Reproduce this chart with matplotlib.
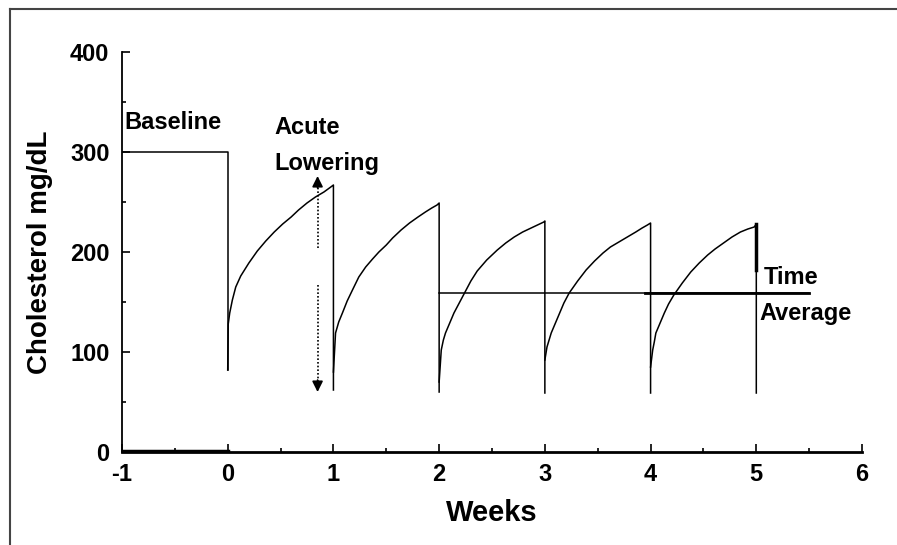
import matplotlib
matplotlib.use("Agg")
import matplotlib.pyplot as plt
from matplotlib.lines import Line2D

# データ
baseline_x = [-1, 0, 0]
baseline_y = [300, 300, 82]

curve1_x = [0.0, 0.005, 0.019, 0.044, 0.076, 0.123, 0.2, 0.28, 0.36, 0.44, 0.52,
            0.60, 0.67, 0.75, 0.83, 0.91, 0.975, 1.0, 1.0]
curve1_y = [82, 128, 139, 152, 165, 176, 189, 201, 211, 220, 228,
            235, 242, 249, 255, 260, 265, 267, 62]

curve2_x = [1.0, 1.02, 1.05, 1.085, 1.13, 1.18, 1.24, 1.305, 1.37, 1.43, 1.5,
            1.56, 1.64, 1.72, 1.8, 1.87, 1.93, 1.98, 2.0, 2.0]
curve2_y = [80, 119, 130, 139, 151, 162, 175, 185, 193, 200, 207,
            214, 222, 229, 235, 240, 244, 247, 249, 60]

curve3_x = [2.0, 2.02, 2.04, 2.06, 2.10, 2.14, 2.19, 2.24, 2.30, 2.36, 2.45,
            2.55, 2.63, 2.71, 2.79, 2.87, 2.93, 2.99, 3.0, 3.0]
curve3_y = [70, 102, 112, 119, 129, 139, 149, 159, 171, 181, 192,
            202, 209, 215, 220, 224, 227, 230, 231, 59]

curve4_x = [3.0, 3.02, 3.04, 3.06, 3.10, 3.14, 3.18, 3.23, 3.31, 3.39, 3.47,
            3.55, 3.62, 3.70, 3.78, 3.86, 3.92, 3.97, 4.0, 4.0]
curve4_y = [92, 105, 112, 119, 129, 139, 149, 159, 171, 182, 191,
            199, 205, 210, 215, 220, 224, 227, 229, 59]

curve5_x = [4.0, 4.02, 4.035, 4.05, 4.09, 4.13, 4.17, 4.22, 4.30, 4.38, 4.46,
            4.54, 4.61, 4.69, 4.77, 4.85, 4.92, 4.98, 5.0, 5.0]
curve5_y = [85, 102, 110, 119, 129, 139, 148, 157, 169, 180, 189,
            197, 203, 209, 215, 220, 223, 225, 228, 59]

avg_x = [2.0, 5.5]
avg_thick_x = [3.95, 5.5]
avg_y = 159

arrow_x = 0.85
arrow_up = (204, 276)     # 点線上部（上向き矢印）
arrow_down = (167, 60)    # 点線下部（下向き矢印）

x_ticks = [-1, 0, 1, 2, 3, 4, 5, 6]
x_labels = ['-1', '0', '1', '2', '3', '4', '5', '6']
y_ticks = [0, 100, 200, 300, 400]

plt.rcParams['font.family'] = ['Liberation Sans', 'DejaVu Sans']

fig = plt.figure(figsize=(8.97, 5.45), dpi=100)
ax = fig.add_axes([0.136, 0.1706, 0.825, 0.734])

k = 'black'
ax.plot(baseline_x, baseline_y, color=k, lw=1.1)
for cx, cy in [(curve1_x, curve1_y), (curve2_x, curve2_y), (curve3_x, curve3_y),
               (curve4_x, curve4_y), (curve5_x, curve5_y)]:
    ax.plot(cx, cy, color=k, lw=1.1)

ax.plot(avg_x, [avg_y, avg_y], color=k, lw=1.1)
ax.plot(avg_thick_x, [avg_y, avg_y], color=k, lw=2.0)
ax.plot([5, 5], [228, 182], color=k, lw=2.5)
ax.plot([-1, 0], [1, 1], color=k, lw=2.5)

# 点線の矢印（線は点線、矢じりは塗りつぶし）
ax.plot([arrow_x, arrow_x], [arrow_up[0], arrow_up[1] - 10], color=k, lw=1.2,
        ls=(0, (1, 1.2)))
ax.plot([arrow_x, arrow_x], [arrow_down[0], arrow_down[1] + 10], color=k, lw=1.2,
        ls=(0, (1, 1.2)))
ax.annotate('', xy=(arrow_x, arrow_up[1]), xytext=(arrow_x, arrow_up[1] - 12),
            arrowprops=dict(arrowstyle='-|>', color=k, lw=1.2,
                            mutation_scale=16, shrinkA=0, shrinkB=0))
ax.annotate('', xy=(arrow_x, arrow_down[1]), xytext=(arrow_x, arrow_down[1] + 12),
            arrowprops=dict(arrowstyle='-|>', color=k, lw=1.2,
                            mutation_scale=16, shrinkA=0, shrinkB=0))

fs = 17
fw = 'bold'
ax.text(-0.98, 329, 'Baseline', fontsize=fs, fontweight=fw, va='center', ha='left')
ax.text(0.44, 324, 'Acute', fontsize=fs, fontweight=fw, va='center', ha='left')
ax.text(0.44, 289, 'Lowering', fontsize=fs, fontweight=fw, va='center', ha='left')
ax.text(5.07, 175, 'Time', fontsize=fs, fontweight=fw, va='center', ha='left')
ax.text(5.03, 139, 'Average', fontsize=fs, fontweight=fw, va='center', ha='left')

ax.set_xlim(-1, 6)
ax.set_ylim(0, 400)
ax.set_xticks(x_ticks)
ax.set_xticklabels(x_labels)
ax.set_yticks(y_ticks)
ax.set_xticks([-0.5, 0.5, 1.5, 2.5, 3.5, 4.5, 5.5], minor=True)
ax.set_yticks([50, 150, 250, 350], minor=True)
ax.tick_params(which='major', direction='in', length=6, width=1.2,
               labelsize=17)
ax.tick_params(axis='x', which='major', pad=8)
ax.tick_params(axis='y', which='major', pad=9)
ax.tick_params(which='minor', direction='in', length=3, width=1.2)
for lab in ax.get_xticklabels() + ax.get_yticklabels():
    lab.set_fontweight('bold')

for s in ['top', 'right']:
    ax.spines[s].set_visible(False)
ax.spines['left'].set_linewidth(1.3)
ax.spines['bottom'].set_linewidth(2.0)

ax.set_xlabel('Weeks', fontsize=21, fontweight='bold', labelpad=9)
ax.set_ylabel('Cholesterol mg/dL', fontsize=20, fontweight='bold', labelpad=12)

# 外枠
fig.add_artist(Line2D([0.0106, 1.0], [0.984, 0.984], transform=fig.transFigure,
                      color='#444444', lw=1.5))
fig.add_artist(Line2D([0.0106, 0.0106], [0.0, 0.984], transform=fig.transFigure,
                      color='#444444', lw=1.5))

fig.savefig('out.png', dpi=100)
